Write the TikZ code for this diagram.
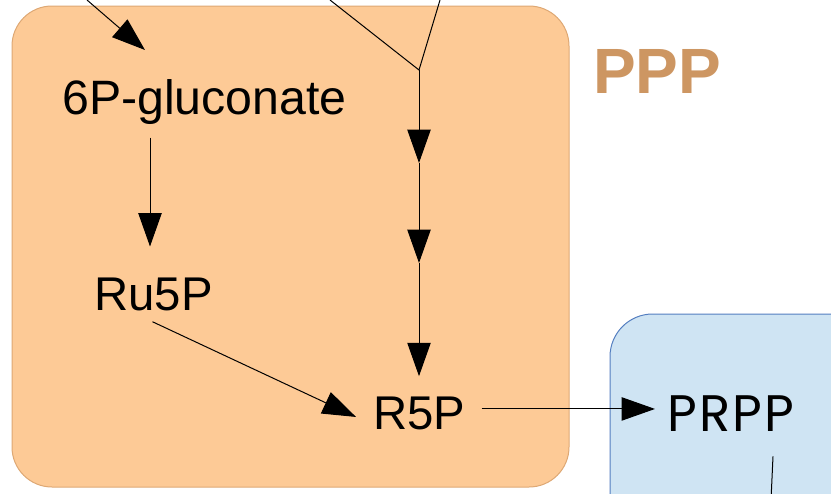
\documentclass[tikz,border=0pt]{standalone}
\usepackage{fontspec}
\setmainfont{Liberation Sans}
\newfontfamily\prppfont[LetterSpace=4]{Poppins}
\usetikzlibrary{arrows.meta,calc}

\definecolor{pppfill}{RGB}{253,202,150}
\definecolor{pppedge}{RGB}{222,168,116}
\definecolor{ppptext}{RGB}{205,150,98}
\definecolor{purfill}{RGB}{207,228,243}
\definecolor{puredge}{RGB}{84,126,192}

\tikzset{
  arr/.style={line width=0.75pt, -{Triangle[length=25pt,width=17.5pt]}},
  plain/.style={line width=0.75pt},
  metab/.style={inner sep=0pt, anchor=base west, font=\fontsize{35.5}{40}\selectfont},
}

\begin{document}
\begin{tikzpicture}[x=0.75pt, y=-0.75pt]
  \useasboundingbox (0,0) rectangle (831,493);
  \clip (0,0) rectangle (831,493);

  % pathway compartments
  \draw[fill=pppfill, draw=pppedge, line width=0.75pt, rounded corners=30pt]
    (12,6) rectangle (569,487);
  \draw[fill=purfill, draw=puredge, line width=0.75pt, rounded corners=32pt]
    (610,314) rectangle (880,560);

  \node[inner sep=0pt, anchor=base west, text=ppptext,
        font=\fontsize{48}{56}\selectfont\bfseries] (ppp) at (593,93) {PPP};

  % metabolites
  \node[metab, font=\fontsize{36.2}{40}\selectfont] (gluc) at (62,114) {6P-gluconate};
  \node[metab] (ru) at (94,310) {Ru5P};
  \node[metab] (r5) at (373,429) {R5P};
  \node[metab, font=\prppfont\fontsize{38.5}{42}\selectfont] (prpp) at (667,431) {PRPP};

  % free ends entering from the top
  \coordinate (inA) at (87,0);
  \coordinate (tipA) at (145,50);
  \coordinate (inB) at (330,0);
  \coordinate (inC) at (440,0);
  \coordinate (j) at (419,70);
  \coordinate (m1) at (419,163);
  \coordinate (m2) at (419,263);
  \coordinate (down) at (771,500);

  \draw[arr] (inA) -- (tipA);
  \draw[plain] (inB) -- (j) -- (inC);
  \draw[arr] (j) -- (m1);
  \draw[arr] (m1) -- (m2);
  \draw[arr, shorten >=15pt] (m2) -- (m2 |- r5.north);

  \draw[arr, shorten <=10pt, shorten >=23pt] (gluc.south -| 150,0) -- (ru.north -| 150,0);
  \draw[arr] ($(ru.south)+(-1,11)$) -- ($(r5.west)+(-17,4)$);
  \draw[arr] ($(r5.east)+(16,-4)$) -- ($(r5.east -| prpp.west)+(-12,-4)$);
  \draw[plain] ($(prpp.south west)+(106,25)$) -- (down);
\end{tikzpicture}
\end{document}
